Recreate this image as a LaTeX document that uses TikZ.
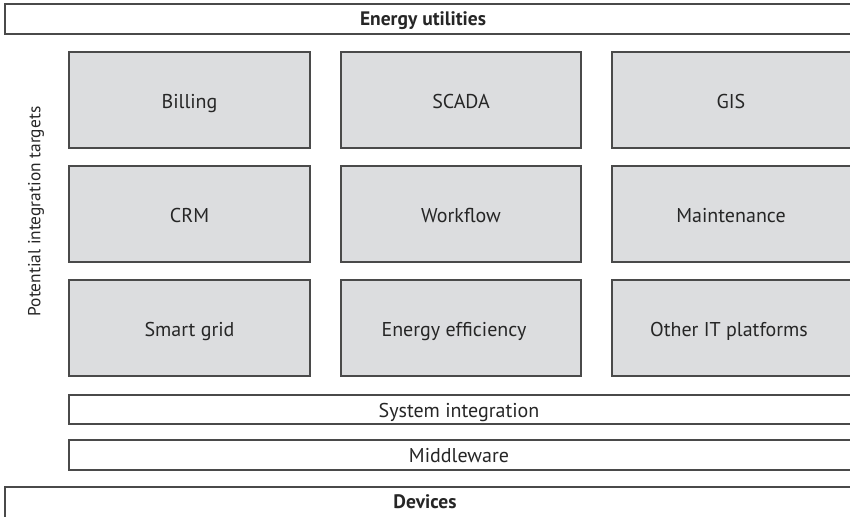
\documentclass[tikz,border=0pt]{standalone}
\usepackage{fontspec}
\setmainfont{PT Sans}
\definecolor{edge}{HTML}{4A4A4A}
\definecolor{cell}{HTML}{DCDDDF}
\begin{document}
\begin{tikzpicture}[x=1pt,y=-1pt,
  layer/.style={draw=edge,line width=1.8pt,fill=white},
  target/.style={draw=edge,line width=1.8pt,fill=cell},
  lbl/.style={font=\fontsize{20}{24}\selectfont,text=black!85,anchor=base,inner sep=0pt},
  head/.style={lbl,font=\fontsize{19.5}{24}\selectfont\bfseries}]
\useasboundingbox (0,0) rectangle (850,516);
\clip (0,0) rectangle (850,516);
% outer layers
\draw[layer] (5,4) rectangle (860,34);
\node[head] (eu) at (423,26) {Energy utilities};
\draw[layer] (5,487) rectangle (860,530);
\node[head] (dev) at (425,508) {Devices};
% integration layers
\draw[layer] (69,395) rectangle (860,424);
\node[lbl] (si) at (459,417) {System integration};
\draw[layer] (69,440) rectangle (860,470);
\node[lbl] (mw) at (459,462) {Middleware};
% grid of integration targets
\foreach \x/\w in {69/310,341/581,612/851}{
  \foreach \y/\v in {52/148,166/262,280/376}{
    \draw[target] (\x,\y) rectangle (\w,\v);
  }
}
\node[lbl] (bill) at (189.5,109) {Billing};
\node[lbl] (scada) at (461,109) {SCADA};
\node[lbl] (gis) at (731,109) {GIS};
\node[lbl] (crm) at (189.5,222.5) {CRM};
\node[lbl] (wf) at (461,222.5) {Workflow};
\node[lbl] (mnt) at (731,222.5) {Maintenance};
\node[lbl] (sg) at (189.5,336) {Smart grid};
\node[lbl] (ee) at (454,336) {Energy efficiency};
\node[lbl] (oit) at (729,336) {Other IT platforms};
% axis caption
\node[font=\fontsize{17.4}{20}\selectfont,text=black!85,rotate=90,inner sep=0pt] (pit) at (36,211.5) {Potential integration targets};
\end{tikzpicture}
\end{document}
